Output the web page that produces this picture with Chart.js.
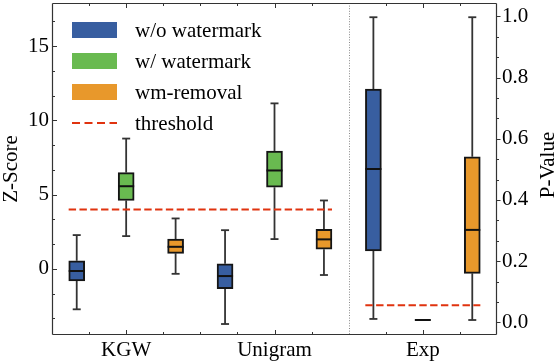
<!DOCTYPE html>
<html><head><meta charset="utf-8">
<script src="https://cdn.jsdelivr.net/npm/chart.js@4"></script>
<style>html,body{margin:0;padding:0;background:#fff}#wrap{width:557px;height:362px;position:relative}</style>
</head><body><div id="wrap"><canvas id="c"></canvas></div>
<script>
// ---- data ----
const GROUPS = ['KGW', 'Unigram', 'Exp'];
const SERIES = ['w/o watermark', 'w/ watermark', 'wm-removal'];
const THRESHOLD_LABEL = 'threshold';
// box stats per group: [min, q1, median, q3, max]
const KGW_WO  = [-2.73, -0.81, -0.15, 0.54, 2.27];
const KGW_W   = [2.20, 4.60, 5.56, 6.48, 8.77];
const KGW_RM  = [-0.34, 1.04, 1.48, 2.00, 3.39];
const UNI_WO  = [-3.72, -1.34, -0.49, 0.34, 2.60];
const UNI_W   = [2.00, 5.49, 6.62, 7.92, 11.14];
const UNI_RM  = [-0.42, 1.32, 1.98, 2.65, 4.60];
const EXP_WO  = [0.011, 0.233, 0.501, 0.762, 0.997];
const EXP_W   = [0.0075, 0.0075, 0.0075, 0.0075, 0.0075];
const EXP_RM  = [0.0075, 0.160, 0.302, 0.541, 0.997];
const Z_THRESHOLD = 4;
const P_THRESHOLD = 0.056;
const Z_TICKS = [0, 5, 10, 15];
const P_TICKS = [0, 0.2, 0.4, 0.6, 0.8, 1.0];

// ---- styling ----
const COLORS = ['#385EA0', '#69BA50', '#E8982B'];
const RED = '#E0330F';
const FONT = 'Liberation Serif';
const FS = 21;
const PER_GROUP = 3;
const LEFT_SLOTS = 6;
const BOX_PX = 16;
const BOX_HALF_UNITS = 0.163;

const Z_GROUPS = [[KGW_WO, KGW_W, KGW_RM], [UNI_WO, UNI_W, UNI_RM]];
const P_GROUPS = [[EXP_WO, EXP_W, EXP_RM]];

function pos(g, s) { return g * PER_GROUP + s + 0.5; }

const datasets = [];
SERIES.forEach((name, s) => {
  datasets.push({
    type: 'bar', label: name, yAxisID: 'y',
    data: Z_GROUPS.map((grp, g) => ({ x: pos(g, s), y: [grp[s][1], grp[s][3]], stats: grp[s] })),
    backgroundColor: COLORS[s], borderColor: '#151515', borderWidth: 2, borderSkipped: false,
    barThickness: BOX_PX, grouped: false
  });
  datasets.push({
    type: 'bar', label: name, yAxisID: 'y2',
    data: P_GROUPS.map((grp, g) => ({ x: pos(g + Z_GROUPS.length, s), y: [grp[s][1], grp[s][3]], stats: grp[s] })),
    backgroundColor: COLORS[s], borderColor: '#151515', borderWidth: 2, borderSkipped: false,
    barThickness: BOX_PX, grouped: false
  });
});
const zFirst = pos(0, 0) - BOX_HALF_UNITS, zLast = pos(Z_GROUPS.length - 1, PER_GROUP - 1) + BOX_HALF_UNITS;
const pFirst = pos(Z_GROUPS.length, 0) - BOX_HALF_UNITS, pLast = pos(Z_GROUPS.length, PER_GROUP - 1) + BOX_HALF_UNITS;
datasets.push({ type: 'line', label: THRESHOLD_LABEL, yAxisID: 'y', order: -1,
  data: [{ x: zFirst, y: Z_THRESHOLD }, { x: zLast, y: Z_THRESHOLD }],
  borderColor: RED, borderWidth: 2, borderDash: [7.4, 3.4], pointRadius: 0, fill: false });
datasets.push({ type: 'line', label: THRESHOLD_LABEL, yAxisID: 'y2', order: -1,
  data: [{ x: pFirst, y: P_THRESHOLD }, { x: pLast, y: P_THRESHOLD }],
  borderColor: RED, borderWidth: 2, borderDash: [7.4, 3.4], pointRadius: 0, fill: false });

function seg(ctx, x1, y1, x2, y2) { ctx.beginPath(); ctx.moveTo(x1, y1); ctx.lineTo(x2, y2); ctx.stroke(); }

const boxPlugin = {
  id: 'boxparts',
  beforeDatasetsDraw(chart) {
    const ctx = chart.ctx, xs = chart.scales.x, a = chart.chartArea;
    ctx.save();
    // panel separator
    const sx = Math.round(xs.getPixelForValue(LEFT_SLOTS)) + 0.5;
    ctx.strokeStyle = '#888'; ctx.lineWidth = 1; ctx.setLineDash([1, 1.6]);
    seg(ctx, sx, a.top, sx, a.bottom);
    ctx.setLineDash([]);
    // whiskers
    ctx.strokeStyle = '#333'; ctx.lineWidth = 1.8;
    chart.data.datasets.forEach(ds => {
      if (ds.type !== 'bar') return;
      const ys = chart.scales[ds.yAxisID];
      ds.data.forEach(p => {
        const px = xs.getPixelForValue(p.x);
        const [mn, q1, md, q3, mx] = p.stats;
        seg(ctx, px, ys.getPixelForValue(q3), px, ys.getPixelForValue(mx));
        seg(ctx, px, ys.getPixelForValue(q1), px, ys.getPixelForValue(mn));
        seg(ctx, px - 4, ys.getPixelForValue(mx), px + 4, ys.getPixelForValue(mx));
        seg(ctx, px - 4, ys.getPixelForValue(mn), px + 4, ys.getPixelForValue(mn));
      });
    });
    ctx.restore();
  },
  afterDatasetsDraw(chart) {
    const ctx = chart.ctx, xs = chart.scales.x, ys = chart.scales.y, ps = chart.scales.y2, a = chart.chartArea;
    ctx.save();
    // medians
    ctx.strokeStyle = '#111'; ctx.lineWidth = 2;
    chart.data.datasets.forEach(ds => {
      if (ds.type !== 'bar') return;
      const sc = chart.scales[ds.yAxisID];
      ds.data.forEach(p => {
        const px = xs.getPixelForValue(p.x);
        const y = sc.getPixelForValue(p.stats[2]);
        seg(ctx, px - BOX_PX / 2, y, px + BOX_PX / 2, y);
      });
    });
    // frame
    ctx.strokeStyle = '#333'; ctx.lineWidth = 1.2;
    const L = Math.round(a.left) + 0.5, R = Math.round(a.right) - 0.5, T = Math.round(a.top) + 0.5, B = Math.round(a.bottom) - 0.5;
    seg(ctx, L, T, L, B); seg(ctx, R, T, R, B); seg(ctx, L, T, R, T); seg(ctx, L, B, R, B);
    // x ticks (inward, top & bottom)
    ctx.lineWidth = 1;
    const majorX = GROUPS.map((g, i) => i * PER_GROUP + PER_GROUP / 2);
    const panels = [[0, LEFT_SLOTS], [LEFT_SLOTS, LEFT_SLOTS + PER_GROUP]];
    panels.forEach(([s0, s1]) => {
      for (let t = s0 + 0.75; t < s1 - 0.01; t += 0.75) {
        const isMajor = majorX.some(m => Math.abs(m - t) < 1e-6);
        const len = isMajor ? 4.5 : 2.5;
        const px = Math.round(xs.getPixelForValue(t)) + 0.5;
        seg(ctx, px, B, px, B - len); seg(ctx, px, T, px, T + len);
      }
    });
    // Z ticks inward on left
    const zStep = (Z_TICKS[1] - Z_TICKS[0]) / 3;
    for (let k = Math.ceil(ys.min / zStep); k * zStep <= ys.max; k++) {
      const v = k * zStep;
      const isMajor = Z_TICKS.some(m => Math.abs(m - v) < 1e-6);
      const py = Math.round(ys.getPixelForValue(v)) + 0.5;
      seg(ctx, L, py, L + (isMajor ? 4.5 : 2.5), py);
    }
    // P ticks outward on right
    const pStep = (P_TICKS[1] - P_TICKS[0]) / 3;
    for (let k = Math.ceil(ps.min / pStep); k * pStep <= ps.max; k++) {
      const v = k * pStep;
      const isMajor = P_TICKS.some(m => Math.abs(m - v) < 1e-6);
      const py = Math.round(ps.getPixelForValue(v)) + 0.5;
      seg(ctx, R, py, R + (isMajor ? 4 : 2.5), py);
    }
    // legend
    ctx.font = FS + 'px "' + FONT + '"';
    ctx.textBaseline = 'middle'; ctx.textAlign = 'left'; ctx.fillStyle = '#000';
    const lx = a.left + 20, ly0 = a.top + 27, dy = 31;
    SERIES.forEach((name, s) => {
      const cy = ly0 + s * dy;
      ctx.fillStyle = COLORS[s];
      ctx.fillRect(lx, cy - 8, 45, 16);
      ctx.fillStyle = '#000';
      ctx.fillText(name, lx + 63, cy + 1);
    });
    const cy = ly0 + 3 * dy;
    ctx.strokeStyle = RED; ctx.lineWidth = 2.2; ctx.setLineDash([8, 4.5]);
    seg(ctx, lx, cy, lx + 45, cy);
    ctx.setLineDash([]);
    ctx.fillText(THRESHOLD_LABEL, lx + 63, cy + 1);
    // right axis title
    ctx.save();
    ctx.translate(548, (a.top + a.bottom) / 2 - 4);
    ctx.rotate(-Math.PI / 2);
    ctx.textAlign = 'center'; ctx.textBaseline = 'middle';
    ctx.fillText('P-Value', 0, 0);
    ctx.restore();
    ctx.restore();
  }
};

const tickFont = { family: FONT, size: FS };
new Chart(document.getElementById('c'), {
  type: 'bar',
  data: { datasets },
  options: {
    responsive: true, maintainAspectRatio: false, animation: false,
    layout: { padding: { top: 3, left: 0, right: 0, bottom: 0 } },
    plugins: { legend: { display: false }, tooltip: { enabled: false } },
    scales: {
      x: {
        type: 'linear', position: 'bottom', min: 0, max: LEFT_SLOTS + PER_GROUP, offset: false,
        grid: { display: false, drawTicks: false, offset: false }, border: { display: false },
        afterBuildTicks: s => { s.ticks = GROUPS.map((g, i) => ({ value: i * PER_GROUP + PER_GROUP / 2 })); },
        ticks: { autoSkip: false, maxRotation: 0, padding: 3, color: '#000', font: tickFont,
          callback: (v, i) => GROUPS[i] },
        afterFit: s => { s.height = 27; s.paddingLeft = 0; s.paddingRight = 0; }
      },
      y: {
        type: 'linear', position: 'left', min: -4.46, max: 17.9,
        grid: { display: false, drawTicks: false }, border: { display: false },
        afterBuildTicks: s => { s.ticks = Z_TICKS.map(v => ({ value: v })); },
        ticks: { padding: 3, color: '#000', font: tickFont, callback: v => String(v) },
        title: { display: true, text: 'Z-Score', color: '#000', font: { family: FONT, size: FS, lineHeight: 1.05 }, padding: 0 },
        afterFit: s => { s.width = 52; s.paddingTop = 0; s.paddingBottom = 0; }
      },
      y2: {
        type: 'linear', position: 'right', min: -0.0415, max: 1.0435,
        grid: { display: false, drawTicks: false }, border: { display: false },
        afterBuildTicks: s => { s.ticks = P_TICKS.map(v => ({ value: v })); },
        ticks: { padding: 5, color: '#000', font: tickFont, callback: v => v.toFixed(1) },
        afterFit: s => { s.width = 60; s.paddingTop = 0; s.paddingBottom = 0; }
      }
    }
  },
  plugins: [boxPlugin]
});
</script>
</body></html>
